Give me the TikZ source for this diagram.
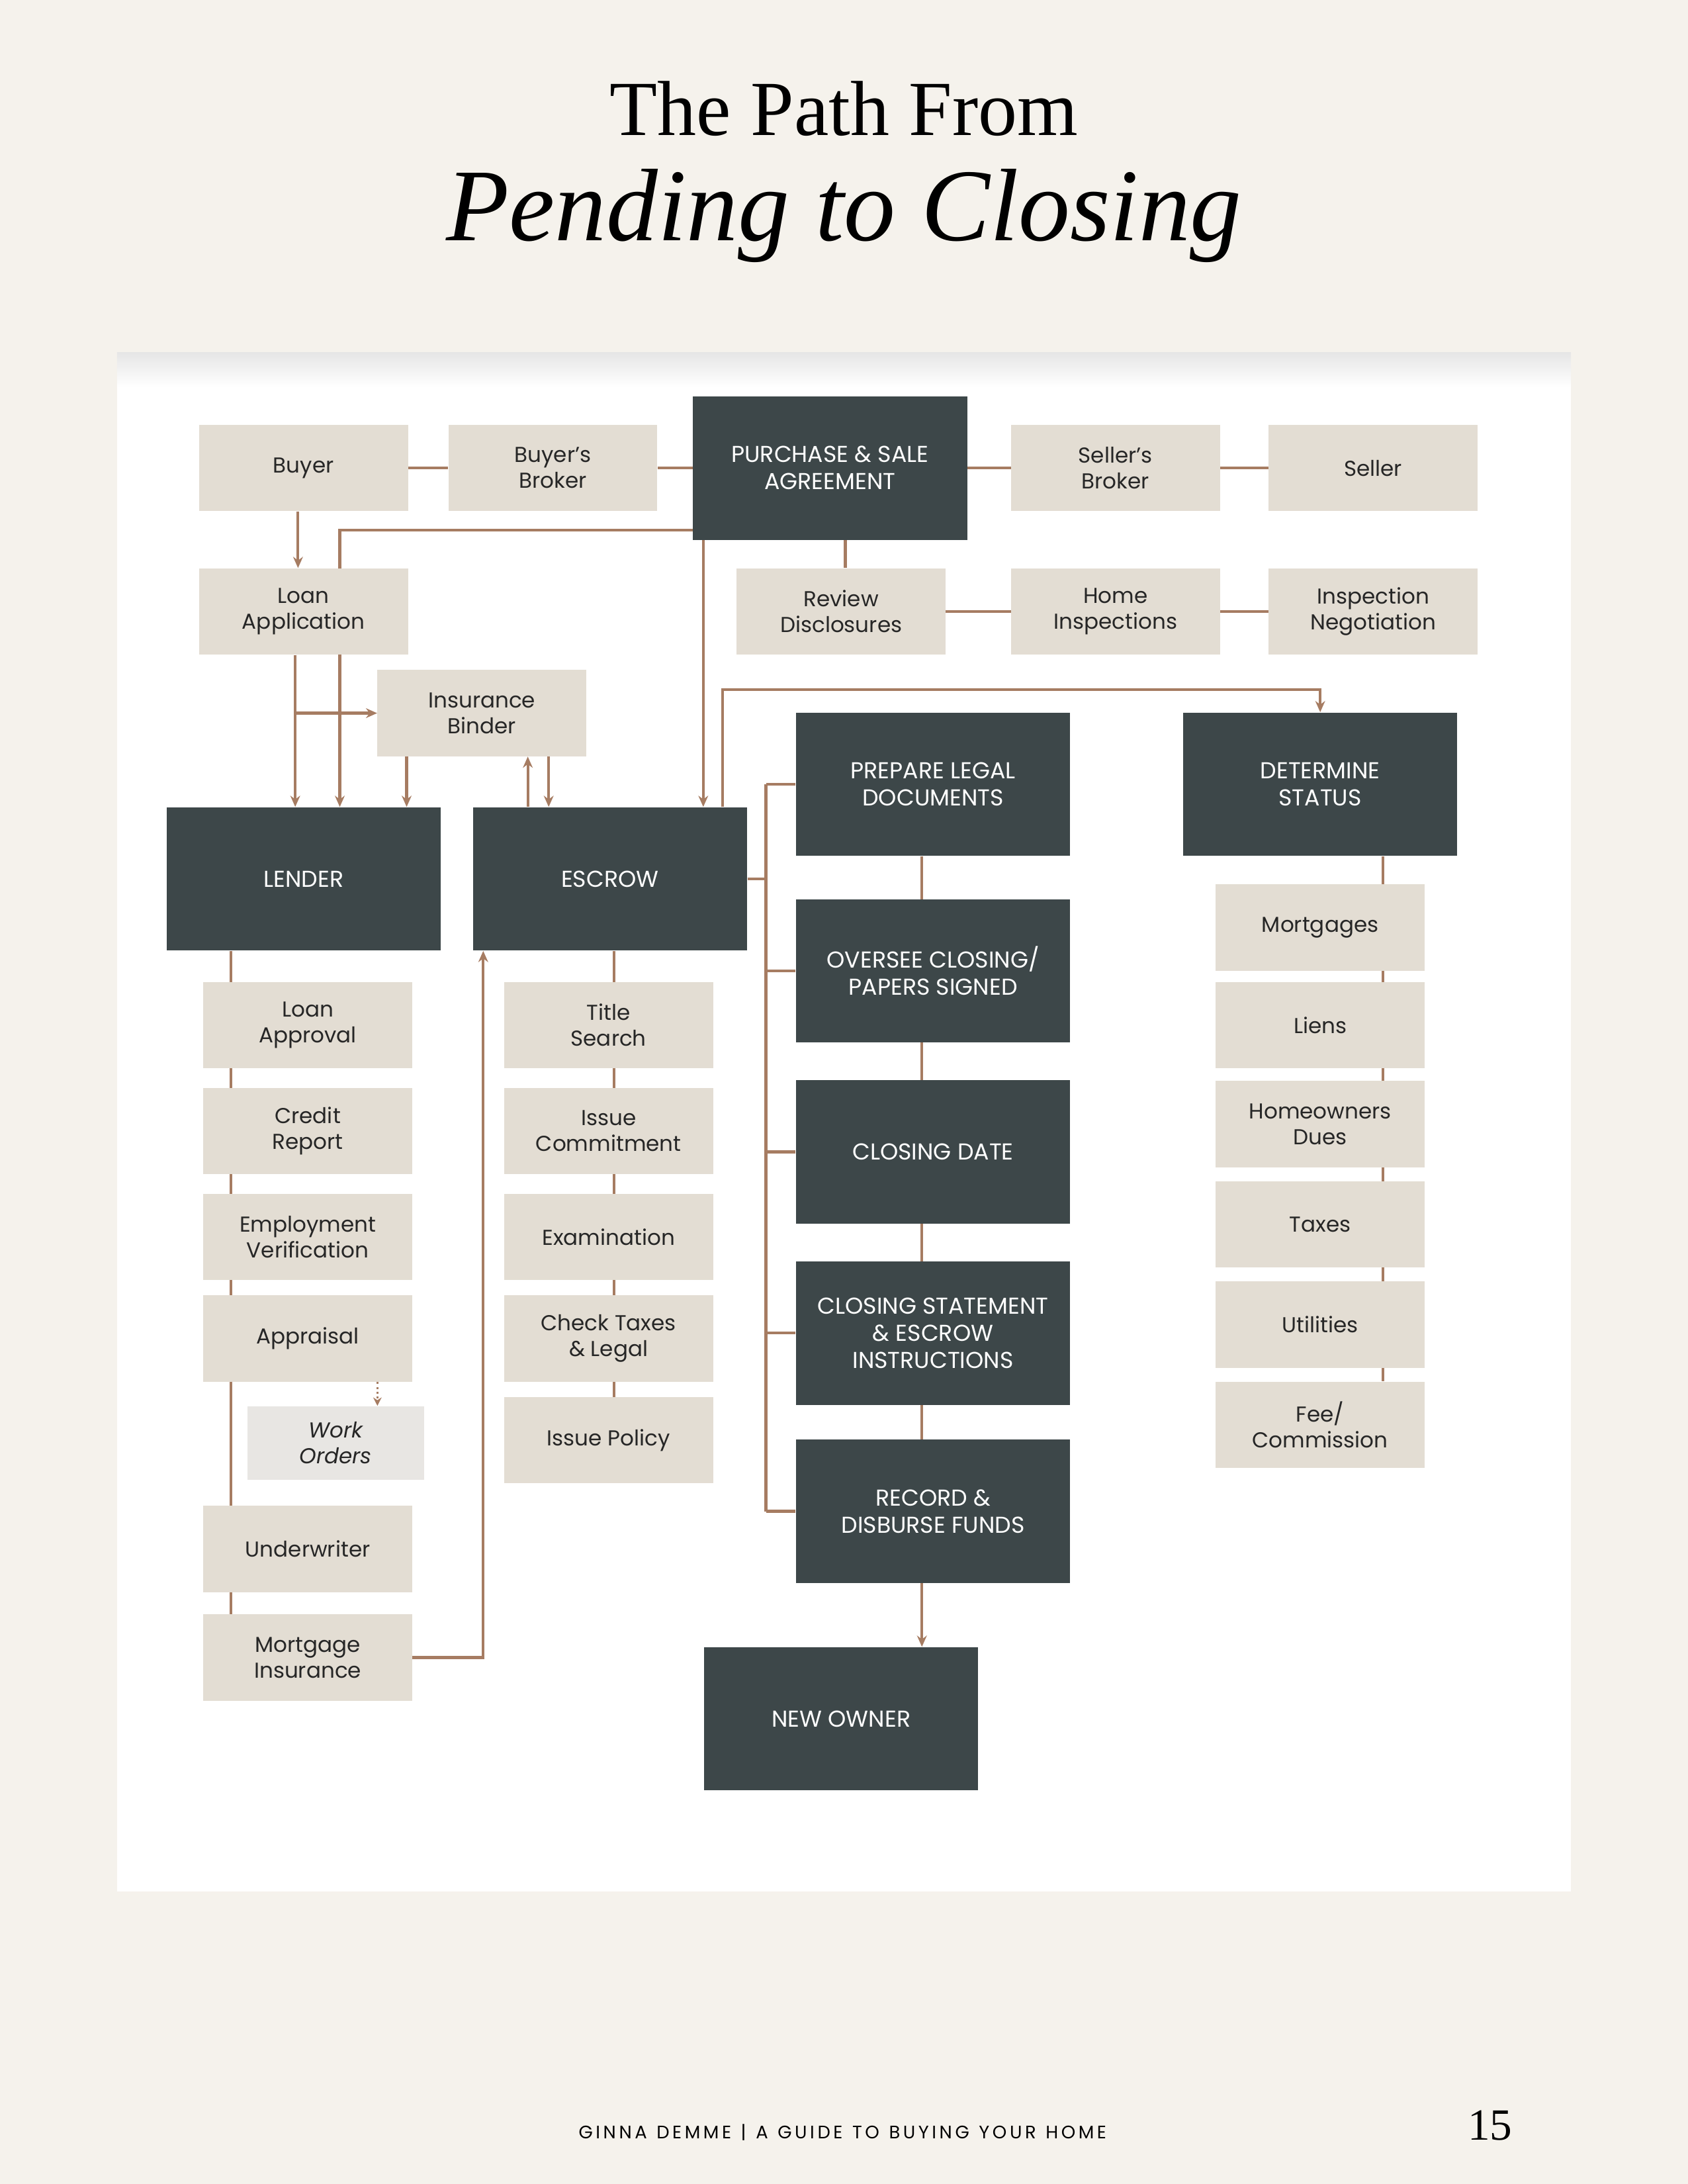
\documentclass[tikz,border=0pt]{standalone}
\usepackage{fontspec}
\setmainfont{Poppins}
\newfontfamily\titlefont{Liberation Serif}
\usetikzlibrary{arrows.meta,calc}
\definecolor{cream}{HTML}{F5F2EC}
\definecolor{beige}{HTML}{E3DDD3}
\definecolor{darkbox}{HTML}{3D4749}
\definecolor{conn}{HTML}{A67C62}
\definecolor{wo}{HTML}{E8E6E3}
\pgfdeclarelayer{bg}\pgfdeclarelayer{lines}
\pgfsetlayers{bg,lines,main}
\tikzset{
 lb/.style={fill=beige,minimum width=150pt,minimum height=62pt,align=center,inner sep=0pt,font=\fontsize{15.5}{18.5}\selectfont,text=black!85},
 db/.style={fill=darkbox,minimum width=197pt,minimum height=103pt,align=center,inner sep=0pt,font=\fontsize{16.5}{19.5}\selectfont,text=white},
 cn/.style={draw=conn,line width=2pt},
 ar/.style={cn,-{Stealth[length=8pt,width=7pt]}}
}
\begin{document}
\begin{tikzpicture}[x=1pt,y=-1pt]
\begin{pgfonlayer}{bg}
\fill[cream] (0,0) rectangle (1212,1568);
\fill[white] (84,253) rectangle (1128,1358);
\shade[top color=black!10,bottom color=white] (84,253) rectangle (1128,278);
\end{pgfonlayer}
\useasboundingbox (0,0) rectangle (1212,1568);
\node[font=\titlefont\fontsize{56}{60}\selectfont] (title) at (606,78) {The Path From};
\node[font=\titlefont\itshape\fontsize{74}{80}\selectfont] (sub) at (606,155) {Pending to Closing};
\node[font=\fontsize{13}{15}\selectfont] (foot) at (605,1531) {G\,I\,N\,N\,A\ \ D\,E\,M\,M\,E\ \ |\ \ A\ \ G\,U\,I\,D\,E\ \ T\,O\ \ B\,U\,Y\,I\,N\,G\ \ Y\,O\,U\,R\ \ H\,O\,M\,E};
\node[font=\titlefont\fontsize{32}{34}\selectfont] (pg) at (1070,1526) {15};

\node[lb] (buyer) at (218,336) {Buyer};
\node[lb] (bbroker) at (397,336) {Buyer's\\Broker};
\node[db] (purchase) at (596,336) {PURCHASE \& SALE\\AGREEMENT};
\node[lb] (sbroker) at (801,336) {Seller's\\Broker};
\node[lb] (seller) at (986,336) {Seller};
\node[lb] (loan) at (218,439) {Loan\\Application};
\node[lb] (review) at (604,439) {Review\\Disclosures};
\node[lb] (home) at (801,439) {Home\\Inspections};
\node[lb] (ineg) at (986,439) {Inspection\\Negotiation};
\node[lb] (binder) at (346,512) {Insurance\\Binder};
\node[db] (lender) at (218,631) {LENDER};
\node[db] (escrow) at (438,631) {ESCROW};
\node[db] (legal) at (670,563) {PREPARE LEGAL\\DOCUMENTS};
\node[db] (status) at (948,563) {DETERMINE\\STATUS};
\node[db] (oversee) at (670,697) {OVERSEE CLOSING/\\PAPERS SIGNED};
\node[db] (cdate) at (670,827) {CLOSING DATE};
\node[db] (cstate) at (670,957) {CLOSING STATEMENT\\\& ESCROW\\INSTRUCTIONS};
\node[db] (record) at (670,1085) {RECORD \&\\DISBURSE FUNDS};
\node[db] (newowner) at (604,1234) {NEW OWNER};

\node[lb] (lapp) at (221,736) {Loan\\Approval};
\node[lb] (credit) at (221,812) {Credit\\Report};
\node[lb] (employ) at (221,888) {Employment\\Verification};
\node[lb] (apprais) at (221,961) {Appraisal};
\node[lb,fill=wo,minimum width=127pt,minimum height=53pt,font=\itshape\fontsize{15.5}{18.5}\selectfont] (work) at (241,1036) {Work\\Orders};
\node[lb] (under) at (221,1112) {Underwriter};
\node[lb] (minsur) at (221,1190) {Mortgage\\Insurance};

\node[lb] (title2) at (437,736) {Title\\Search};
\node[lb] (icommit) at (437,812) {Issue\\Commitment};
\node[lb] (exam) at (437,888) {Examination};
\node[lb] (ctax) at (437,961) {Check Taxes\\\& Legal};
\node[lb] (ipolicy) at (437,1034) {Issue Policy};

\node[lb] (mort) at (948,666) {Mortgages};
\node[lb] (liens) at (948,736) {Liens};
\node[lb] (hoa) at (948,807) {Homeowners\\Dues};
\node[lb] (taxes) at (948,879) {Taxes};
\node[lb] (util) at (948,951) {Utilities};
\node[lb] (fee) at (948,1023) {Fee/\\Commission};

\begin{pgfonlayer}{lines}
\draw[cn] (buyer) -- (bbroker) -- (purchase) -- (sbroker) -- (seller);
\draw[ar] ([xshift=-4pt]buyer.south) -- ([xshift=-4pt]loan.north);
\draw[ar] ($(purchase.south west)+(0,-7)$) -| ([xshift=26pt]lender.north);
\draw[ar] ([xshift=-6pt]loan.south) -- ([xshift=-6pt]loan.south |- lender.north);
\draw[ar] ([xshift=-6pt]loan.south |- binder.west) -- (binder.west);
\draw[ar] ([xshift=-54pt]binder.south) -- ([xshift=-54pt]binder.south |- lender.north);
\draw[ar] ([xshift=-59pt]escrow.north) -- ([xshift=-59pt]escrow.north |- binder.south);
\draw[ar] ([xshift=-44pt]escrow.north |- binder.south) -- ([xshift=-44pt]escrow.north);
\draw[ar] ([xshift=-91pt]purchase.south) -- ([xshift=-91pt]purchase.south |- escrow.north);
\draw[cn] ([xshift=11pt]purchase.south) -- ([xshift=11pt]purchase.south |- review.north);
\draw[cn] (review) -- (home) -- (ineg);
\coordinate (bend) at (519,495);
\draw[ar] ([xshift=81pt]escrow.north) -- (bend) -| (status.north);
\coordinate (bus) at (550,0);
\draw[cn] (escrow.east) -- (bus |- escrow.east);
\draw[cn] (bus |- legal.west) -- (bus |- record.west);
\foreach \n in {legal,oversee,cdate,cstate,record} \draw[cn] (bus |- \n.west) -- (\n.west);
\draw[cn] ([xshift=-8pt]legal.south) -- ([xshift=-8pt]record.north);
\draw[ar] ([xshift=-8pt]record.south) -- ([xshift=-8pt]record.south |- newowner.north);
\draw[cn] ([xshift=-52pt]lender.south) -- ([xshift=-55pt]minsur.north);
\draw[conn,line width=1.5pt,dotted,-{Stealth[length=6pt,width=6pt]}] ([xshift=50pt]apprais.south) -- ([xshift=50pt]apprais.south |- work.north);
\draw[ar] (minsur.east) -| ([xshift=-91pt]escrow.south);
\draw[cn] ([xshift=3pt]escrow.south) -- ([xshift=4pt]ipolicy.north);
\draw[cn] ([xshift=45pt]status.south) -- ([xshift=45pt]fee.north);
\end{pgfonlayer}
\end{tikzpicture}
\end{document}
